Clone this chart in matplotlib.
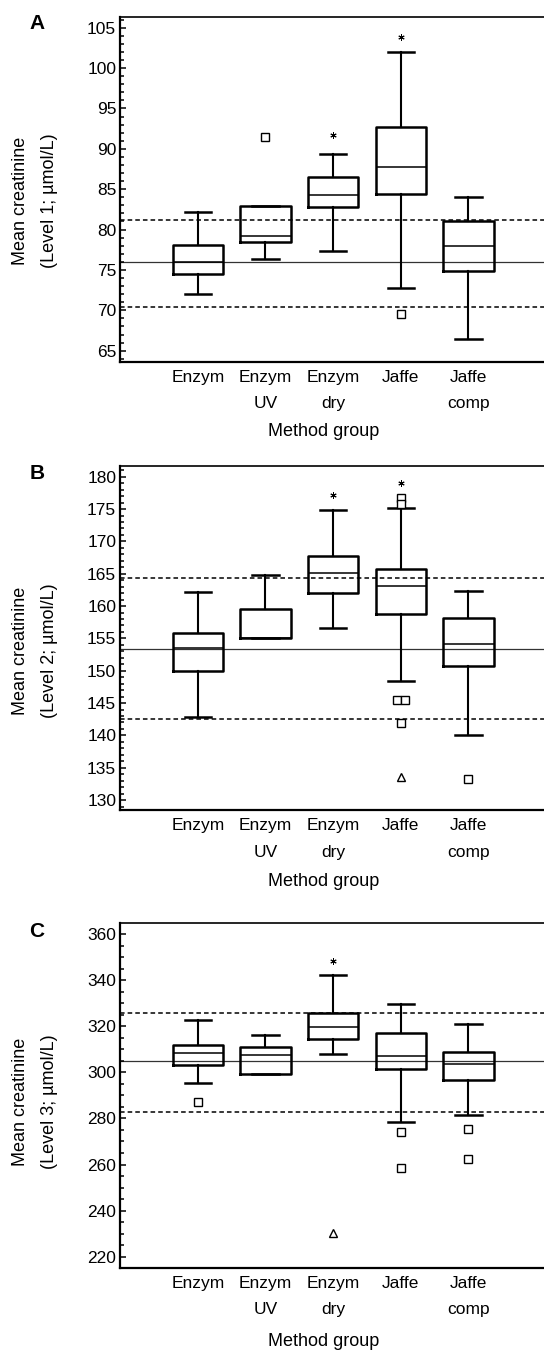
import numpy as np
import matplotlib
matplotlib.use("Agg")
from matplotlib import pyplot as plt
from matplotlib.ticker import MultipleLocator

plt.rcParams['font.family'] = ['Liberation Sans', 'DejaVu Sans']

groups = ['Enzym', 'Enzym\nUV', 'Enzym\ndry', 'Jaffe', 'Jaffe\ncomp']

# Level 1
a_whislo = [72.0, 76.4, 77.3, 72.8, 66.4]
a_q1 = [74.5, 78.5, 82.75, 84.4, 74.9]
a_med = [76.0, 79.2, 84.3, 87.7, 78.0]
a_q3 = [78.1, 82.9, 86.5, 92.7, 81.0]
a_whishi = [82.2, 82.9, 89.35, 102.0, 84.0]
a_sq_grp = [1, 3]
a_sq_val = [91.5, 69.6]
a_tri_grp = []
a_tri_val = []
a_star_grp = [2, 3]
a_star_val = [91.7, 103.8]
a_ref = [76.0, 81.2, 70.4]   # target, upper, lower limit

# Level 2
b_whislo = [142.8, 155.0, 156.65, 148.45, 140.05]
b_q1 = [149.95, 155.0, 161.96, 158.7, 150.7]
b_med = [153.5, 155.0, 165.15, 163.1, 154.1]
b_q3 = [155.9, 159.5, 167.7, 165.67, 158.1]
b_whishi = [162.1, 164.8, 174.85, 175.1, 162.3]
b_sq_grp = [3, 3, 3, 3, 3, 4]
b_sq_val = [176.75, 175.8, 145.5, 145.5, 141.95, 133.3]
b_tri_grp = [3]
b_tri_val = [133.6]
b_star_grp = [2, 3]
b_star_val = [177.2, 179.0]
b_ref = [153.4, 164.4, 142.6]

# Level 3
c_whislo = [295.6, 299.2, 308.0, 278.3, 281.5]
c_q1 = [303.1, 299.2, 314.5, 301.4, 296.7]
c_med = [308.6, 307.7, 319.6, 307.2, 303.7]
c_q3 = [312.1, 311.2, 325.7, 317.0, 309.0]
c_whishi = [322.8, 316.3, 342.2, 329.7, 321.1]
c_sq_grp = [0, 3, 3, 4, 4]
c_sq_val = [287.0, 274.3, 258.4, 275.3, 262.3]
c_tri_grp = [2]
c_tri_val = [230.1]
c_star_grp = [2]
c_star_val = [348.6]
c_ref = [305.1, 326.0, 282.8]


def dodge(grp, val, step=0.06):
    # spread markers that share the same group and value side by side
    x = np.array(grp, dtype=float) + 1
    for i in range(len(val)):
        same = [j for j in range(len(val)) if grp[j] == grp[i] and val[j] == val[i]]
        if len(same) > 1:
            k = same.index(i)
            x[i] += (k - (len(same) - 1) / 2) * 2 * step
    return x


def panel(ax, whislo, q1, med, q3, whishi, sq_grp, sq_val, tri_grp, tri_val,
          star_grp, star_val, ref, ylim, major, minor, level, ylab_y, xlab_y):
    stats = []
    for i in range(len(groups)):
        stats.append(dict(whislo=whislo[i], q1=q1[i], med=med[i], q3=q3[i],
                          whishi=whishi[i], fliers=[]))
    ax.bxp(stats, positions=np.arange(1, 6), widths=0.744, capwidths=0.39,
           showfliers=False,
           boxprops=dict(color='black', linewidth=1.8),
           medianprops=dict(color='black', linewidth=1.1),
           whiskerprops=dict(color='black', linewidth=1.5),
           capprops=dict(color='black', linewidth=1.8))

    ax.axhline(ref[0], color='#333333', linewidth=0.9, zorder=1)
    ax.axhline(ref[1], color='black', linewidth=1.1, linestyle=(0, (3.0, 2.0)), zorder=1)
    ax.axhline(ref[2], color='black', linewidth=1.1, linestyle=(0, (3.0, 2.0)), zorder=1)

    ax.plot(dodge(sq_grp, sq_val), sq_val, linestyle='none', marker='s',
            markersize=5.2, markerfacecolor='white', markeredgecolor='black',
            markeredgewidth=1.0)
    if tri_val:
        ax.plot(np.array(tri_grp) + 1, tri_val, linestyle='none', marker='^',
                markersize=6, markerfacecolor='white', markeredgecolor='black',
                markeredgewidth=1.0)
    ax.plot(np.array(star_grp) + 1, star_val, linestyle='none', marker=(6, 2, 0),
            markersize=4.5, color='black', markeredgewidth=0.7)

    ax.set_xlim(-0.144, 6.118)
    ax.set_ylim(*ylim)
    ax.yaxis.set_major_locator(MultipleLocator(major))
    ax.yaxis.set_minor_locator(MultipleLocator(minor))
    ax.set_xticks(np.arange(1, 6))
    ax.set_xticklabels(groups, linespacing=1.95)
    ax.tick_params(axis='x', length=0, pad=6, labelsize=12.5)
    ax.tick_params(axis='y', which='major', direction='in', length=4.5, width=1.1,
                   labelsize=12.5, pad=3)
    ax.tick_params(axis='y', which='minor', direction='in', length=3, width=1.1)

    ax.spines['right'].set_visible(False)
    ax.spines['left'].set_linewidth(1.6)
    ax.spines['bottom'].set_linewidth(1.6)
    ax.spines['top'].set_linewidth(1.2)

    ax.text(-0.2023, ylab_y, f'Mean creatinine\n(Level {level}; µmol/L)',
            transform=ax.transAxes, rotation=90, ha='center', va='center',
            multialignment='center', fontsize=13, linespacing=1.95)
    ax.text(0.48, xlab_y, 'Method group', transform=ax.transAxes,
            ha='center', va='center', fontsize=13)
    return ax


fig = plt.figure(figsize=(5.44, 13.51), dpi=100)
left = 120.4 / 544
width = 1 - left

ax_a = fig.add_axes([left, 0.7323, width, 0.2549])
panel(ax_a, a_whislo, a_q1, a_med, a_q3, a_whishi, a_sq_grp, a_sq_val,
      a_tri_grp, a_tri_val, a_star_grp, a_star_val, a_ref,
      (63.64, 106.29), 5, 1, 1, 0.4675, -0.203)

ax_b = fig.add_axes([left, 0.4004, width, 0.2546])
panel(ax_b, b_whislo, b_q1, b_med, b_q3, b_whishi, b_sq_grp, b_sq_val,
      b_tri_grp, b_tri_val, b_star_grp, b_star_val, b_ref,
      (128.45, 181.65), 5, 1, 2, 0.463, -0.208)

ax_c = fig.add_axes([left, 0.0617, width, 0.2549])
panel(ax_c, c_whislo, c_q1, c_med, c_q3, c_whishi, c_sq_grp, c_sq_val,
      c_tri_grp, c_tri_val, c_star_grp, c_star_val, c_ref,
      (215.2, 364.8), 20, 5, 3, 0.482, -0.215)

# panel letters
fig.text(37 / 544, 1 - 23.3 / 1351, 'A', fontsize=15, fontweight='bold', ha='center', va='center')
fig.text(37 / 544, 1 - 473.3 / 1351, 'B', fontsize=15, fontweight='bold', ha='center', va='center')
fig.text(37 / 544, 1 - 931.7 / 1351, 'C', fontsize=15, fontweight='bold', ha='center', va='center')

fig.savefig('out.png', dpi=100)
